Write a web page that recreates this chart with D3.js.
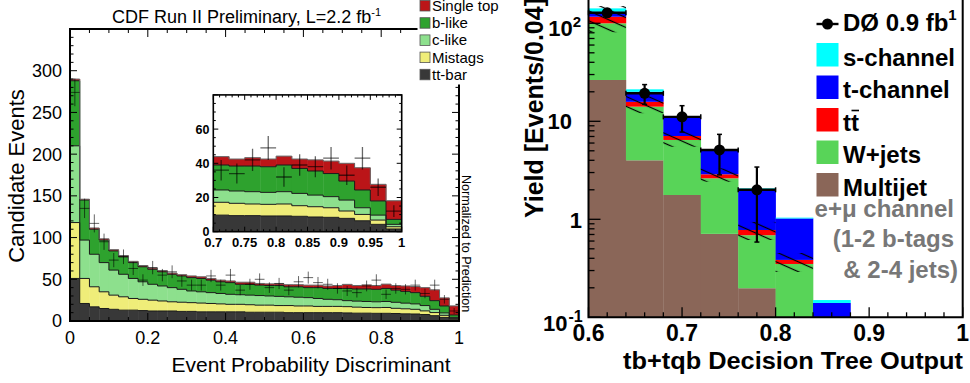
<!DOCTYPE html>
<html>
<head>
<meta charset="utf-8">
<script src="https://cdn.jsdelivr.net/npm/d3@7"></script>
<style>
  html, body { margin: 0; padding: 0; background: #fff; }
  svg { display: block; font-family: "Liberation Sans", Arial, Helvetica, sans-serif; }
</style>
</head>
<body>
<svg id="chart" width="970" height="383"></svg>
<script>
// ---------- CDF: event probability discriminant (40 bins of 0.025) ----------
const cdfBinWidth = 0.025;
const cdfTtbar     = [51,21,17,15,14,13,13,12.5,12,12, 12,11.5,11.5,11,11,11,11,11,10.5,10.5, 10.5,10.5,10,10,10,10,10,10,9.7,9.4, 9.4,9.2,9.2,9,8.6,8.4,7.8,6.4,4.3,1.6];
const cdfMistags   = [67,30,24,20,17,16,14,13.5,13,12, 11,11,10.5,10.5,10,9.5,9,9,9,8.5, 8.5,8,8.5,8,8,7.5,7.5,7.5,7.5,7.2, 6.8,6.8,7,6.2,6,5.6,4.3,3.7,2.5,1.3];
const cdfCLike     = [92,46,39,35,30,27,24,21,19,18, 17,15.5,14,13.5,13,12.5,12,11.5,11.5,11.5, 11,11,10.5,10.5,10,9.5,8.5,8,7.2,7.2, 7.2,7,7.2,7.2,6.8,6.5,6.4,3.9,2.9,1.4];
const cdfBLike     = [78,48,30,27,23,21,19,18,18,17, 16,16,16,16,15,14,14,12.5,13,12.5, 12.5,13,12,12.5,12,13,13,13.5,14.6,14.6, 15,15,15.6,14.6,14.1,13.5,11.1,10.4,8.3,2.9];
const cdfSingleTop = [2,1,1.5,1.5,1.5,1.5,1.5,1.5,1.5,1.5, 1.5,1.5,2,2,2,2,2,2.5,2.5,2, 2,2,2.5,2.5,3,3,3,3.5,4.9,4.1, 4.9,4.5,5.2,5.5,6.5,7.3,10.4,13,9.7,10.9];
const cdfData      = [274,135,117,95,73,77,63,49,64,55, 59,48,43,43,54,43,55,37,44,50, 40,45,37,47,52,46,44,39,36,34, 42,49,32,39,38,43,33,43,26,12];

const cdfYTicks = [0,50,100,150,200,250,300];
const cdfXTicks = [0,0.2,0.4,0.6,0.8,1];
const insetXTicks = [0.7,0.75,0.8,0.85,0.9,0.95,1];
const insetYTicks = [0,20,40,60];
const cdfLegend = ["Single top","b-like","c-like","Mistags","tt-bar"];

// ---------- DZero: decision tree output (bins of 0.04) ----------
const d0BinLow   = [0.60,0.64,0.68,0.72,0.76,0.80,0.84,0.88,0.92,0.96];
const d0BinWidth = 0.04;
const d0Multijet = [26.4,4.0,1.77,0.71,0.198,0,0,0,0,0];
const d0Wjets    = [73.6,10.1,4.68,1.91,0.49,0.35,0,0,0,0];
const d0Ttbar    = [16.7,1.7,0.63,0.26,0.09,0.035,0,0,0,0];
const d0TChannel = [14.3,4.2,3.9,2.13,1.22,0.635,0.14,0,0,0];
const d0SChannel = [11,1.2,0.2,0.2,0.07,0.02,0.01,0,0,0];
const d0Data     = [128,19.3,11.1,5.1,2.0];
const d0BandLow  = [81,12.1,5.5,2.42,0.615,0.29];
const d0BandHigh = [150,18.5,7.83,3.31,0.94,0.453];

const d0XTicks = [0.6,0.7,0.8,0.9,1];
const d0YTicks = [0.1,1,10,100];
const d0Legend = ["s-channel","t-channel","tt","W+jets","Multijet"];

const svg = d3.select("#chart");
const defs = svg.append("defs");

// ======================= Left panel (CDF) =======================
const cdfColors = { ttbar: "#383838", mistags: "#efed79", cLike: "#8de08d", bLike: "#2ea22e", singleTop: "#bb1518" };
const cdfKeys = ["ttbar","mistags","cLike","bLike","singleTop"];
const cdfRows = cdfData.map((d, i) => ({
  lo: i * cdfBinWidth, hi: (i + 1) * cdfBinWidth,
  ttbar: cdfTtbar[i], mistags: cdfMistags[i], cLike: cdfCLike[i], bLike: cdfBLike[i], singleTop: cdfSingleTop[i],
  data: d
}));
const cdfStack = d3.stack().keys(cdfKeys)(cdfRows);

const xL = d3.scaleLinear().domain([0, 1]).range([70, 459]);
const yL = d3.scaleLinear().domain([0, 350]).range([321, 29]);

defs.append("clipPath").attr("id", "clipMain")
  .append("rect").attr("x", xL(0)).attr("y", yL(350)).attr("width", xL(1) - xL(0)).attr("height", yL(0) - yL(350));

function stepPath(rows, tops, x, y) {
  let p = "";
  rows.forEach((r, i) => {
    const X0 = x(r.lo), X1 = x(r.hi), Y = y(tops[i]);
    p += (i === 0 ? `M${X0},${Y}` : `V${Y}`) + `H${X1}`;
  });
  return p;
}

function drawCdfHist(g, x, y, rowFilter, crossWidth) {
  cdfStack.forEach(layer => {
    const pts = layer.filter(d => rowFilter(d.data));
    g.append("g").selectAll("rect").data(pts).join("rect")
      .attr("x", d => x(d.data.lo))
      .attr("y", d => y(d[1]))
      .attr("width", d => x(d.data.hi) - x(d.data.lo) + 0.4)
      .attr("height", d => Math.max(0, y(d[0]) - y(d[1])))
      .attr("fill", cdfColors[layer.key]);
  });
  cdfStack.forEach(layer => {
    const pts = layer.filter(d => rowFilter(d.data));
    g.append("path")
      .attr("d", stepPath(pts.map(d => d.data), pts.map(d => d[1]), x, y))
      .attr("fill", "none")
      .attr("stroke", layer.key === "singleTop" ? "#666" : "#1a1a1a")
      .attr("stroke-width", 1);
  });
  const rows = cdfRows.filter(rowFilter);
  const cross = g.append("g").attr("stroke", "#000").attr("stroke-opacity", 0.6).attr("stroke-width", crossWidth);
  rows.forEach(r => {
    const xc = (x(r.lo) + x(r.hi)) / 2, err = Math.sqrt(r.data);
    cross.append("line").attr("x1", x(r.lo)).attr("x2", x(r.hi)).attr("y1", y(r.data)).attr("y2", y(r.data));
    cross.append("line").attr("x1", xc).attr("x2", xc).attr("y1", y(r.data + err)).attr("y2", y(r.data - err));
  });
}

const gMain = svg.append("g").attr("clip-path", "url(#clipMain)");
drawCdfHist(gMain, xL, yL, () => true, 1);

// main frame and ticks
const gAxL = svg.append("g").attr("stroke", "#000");
gAxL.append("rect").attr("x", xL(0)).attr("y", yL(350)).attr("width", xL(1) - xL(0)).attr("height", yL(0) - yL(350))
  .attr("fill", "none").attr("stroke-width", 2);
d3.range(0, 351, 10).forEach(v => {
  const len = v % 50 === 0 ? 7 : 3.5;
  gAxL.append("line").attr("x1", xL(0)).attr("x2", xL(0) + len).attr("y1", yL(v)).attr("y2", yL(v)).attr("stroke-width", 1);
  gAxL.append("line").attr("x1", xL(1)).attr("x2", xL(1) - len).attr("y1", yL(v)).attr("y2", yL(v)).attr("stroke-width", 1);
});
d3.range(0, 21).forEach(k => {
  const v = k * 0.05, len = k % 4 === 0 ? 8 : 4;
  gAxL.append("line").attr("x1", xL(v)).attr("x2", xL(v)).attr("y1", yL(0)).attr("y2", yL(0) - len).attr("stroke-width", 1);
  gAxL.append("line").attr("x1", xL(v)).attr("x2", xL(v)).attr("y1", yL(350)).attr("y2", yL(350) + len).attr("stroke-width", 1);
});

svg.append("g").selectAll("text").data(cdfYTicks).join("text")
  .attr("x", 62).attr("y", d => yL(d)).attr("dy", "0.36em")
  .attr("text-anchor", "end").attr("font-size", 18).text(d => d);
svg.append("g").selectAll("text").data(cdfXTicks).join("text")
  .attr("x", d => xL(d)).attr("y", 343.5)
  .attr("text-anchor", "middle").attr("font-size", 18).text(d => String(+d.toFixed(1)));

svg.append("text").attr("x", 311).attr("y", 371.5).attr("text-anchor", "middle").attr("font-size", 21)
  .text("Event Probability Discriminant");
svg.append("text").attr("transform", "translate(23.5,176) rotate(-90)").attr("text-anchor", "middle").attr("font-size", 22)
  .text("Candidate Events");
svg.append("text").attr("transform", "translate(461.5,175) rotate(90)").attr("text-anchor", "start").attr("font-size", 12.6)
  .text("Normalized to Prediction");

const title = svg.append("text").attr("x", 112).attr("y", 22.5).attr("font-size", 18);
title.append("tspan").text("CDF Run II Preliminary, L=2.2 fb");
title.append("tspan").attr("dy", -7).attr("font-size", 11).text("-1");

// inset
const xI = d3.scaleLinear().domain([0.7, 1]).range([213.3, 401.7]);
const yI = d3.scaleLinear().domain([0, 80]).range([231.7, 94.9]);
defs.append("clipPath").attr("id", "clipInset")
  .append("rect").attr("x", xI(0.7)).attr("y", yI(80)).attr("width", xI(1) - xI(0.7)).attr("height", yI(0) - yI(80));
svg.append("rect").attr("x", xI(0.7)).attr("y", yI(80)).attr("width", xI(1) - xI(0.7)).attr("height", yI(0) - yI(80)).attr("fill", "#fff");
const gIn = svg.append("g").attr("clip-path", "url(#clipInset)");
drawCdfHist(gIn, xI, yI, r => r.lo >= 0.7 - 1e-9, 1.3);
const gAxI = svg.append("g").attr("stroke", "#000");
gAxI.append("rect").attr("x", xI(0.7)).attr("y", yI(80)).attr("width", xI(1) - xI(0.7)).attr("height", yI(0) - yI(80))
  .attr("fill", "none").attr("stroke-width", 1.6);
d3.range(0, 81, 5).forEach(v => {
  const len = v % 20 === 0 ? 5 : 2.5;
  gAxI.append("line").attr("x1", xI(0.7)).attr("x2", xI(0.7) + len).attr("y1", yI(v)).attr("y2", yI(v)).attr("stroke-width", 1);
  gAxI.append("line").attr("x1", xI(1)).attr("x2", xI(1) - len).attr("y1", yI(v)).attr("y2", yI(v)).attr("stroke-width", 1);
});
d3.range(0, 31).forEach(k => {
  const v = 0.7 + k * 0.01, len = k % 5 === 0 ? 5 : 2.5;
  gAxI.append("line").attr("x1", xI(v)).attr("x2", xI(v)).attr("y1", yI(0)).attr("y2", yI(0) - len).attr("stroke-width", 1);
  gAxI.append("line").attr("x1", xI(v)).attr("x2", xI(v)).attr("y1", yI(80)).attr("y2", yI(80) + len).attr("stroke-width", 1);
});
svg.append("g").selectAll("text").data(insetYTicks).join("text")
  .attr("x", 209.5).attr("y", d => yI(d)).attr("dy", "0.36em")
  .attr("text-anchor", "end").attr("font-size", 12.5).attr("font-weight", "bold").text(d => d);
svg.append("g").selectAll("text").data(insetXTicks).join("text")
  .attr("x", d => xI(d)).attr("y", 246.5)
  .attr("text-anchor", "middle").attr("font-size", 13).attr("font-weight", "bold").text(d => String(+d.toFixed(2)));

// legend (top right, over the frame corner)
svg.append("rect").attr("x", 417.5).attr("y", 0).attr("width", 100).attr("height", 84.5).attr("fill", "#fff");
const legL = svg.append("g");
const legColorsL = [cdfColors.singleTop, cdfColors.bLike, cdfColors.cLike, cdfColors.mistags, cdfColors.ttbar];
cdfLegend.forEach((name, i) => {
  const base = 11 + i * 17.2;
  legL.append("rect").attr("x", 420).attr("y", base - 10.5).attr("width", 10).attr("height", 10.5)
    .attr("fill", legColorsL[i]).attr("stroke", "#555").attr("stroke-width", 0.8);
  legL.append("text").attr("x", 432).attr("y", base).attr("font-size", 15).text(name);
});

// ======================= Right panel (DZero) =======================
const d0Colors = { multijet: "#8a6658", wjets: "#58d458", ttbar: "#ff0000", tchan: "#0000ff", schan: "#00ffff" };
const d0Keys = ["multijet","wjets","ttbar","tchan","schan"];
const d0Rows = d0BinLow.map((lo, i) => ({
  lo, hi: lo + d0BinWidth,
  multijet: d0Multijet[i], wjets: d0Wjets[i], ttbar: d0Ttbar[i], tchan: d0TChannel[i], schan: d0SChannel[i]
}));
const d0Stack = d3.stack().keys(d0Keys)(d0Rows);

const xR = d3.scaleLinear().domain([0.6, 1]).range([588.5, 962.7]);
const yR = d3.scaleLog().domain([0.1, 200]).range([317.3, 317.3 - 98 * Math.log10(2000)]).clamp(true);
const yRs = v => yR(Math.max(v, 1e-4));

defs.append("clipPath").attr("id", "clipRight")
  .append("rect").attr("x", xR(0.6)).attr("y", yR(200)).attr("width", xR(1) - xR(0.6)).attr("height", yR(0.1) - yR(200));

const gR = svg.append("g").attr("clip-path", "url(#clipRight)");
d0Stack.forEach(layer => {
  gR.append("g").selectAll("rect").data(layer.filter(d => d[1] - d[0] > 0)).join("rect")
    .attr("x", d => xR(d.data.lo))
    .attr("y", d => yRs(d[1]))
    .attr("width", d => xR(d.data.hi) - xR(d.data.lo) + 0.3)
    .attr("height", d => Math.max(0, yRs(d[0]) - yRs(d[1])))
    .attr("fill", d0Colors[layer.key]);
});

// uncertainty band (hatched)
const hatch = defs.append("pattern").attr("id", "hatch").attr("patternUnits", "userSpaceOnUse")
  .attr("width", 9).attr("height", 9).attr("patternTransform", "rotate(24)");
hatch.append("line").attr("x1", -1).attr("x2", 10).attr("y1", 4.5).attr("y2", 4.5).attr("stroke", "#000").attr("stroke-width", 1.2);
gR.append("g").selectAll("rect").data(d0BandLow).join("rect")
  .attr("x", (d, i) => xR(d0BinLow[i]))
  .attr("y", (d, i) => yR(d0BandHigh[i]))
  .attr("width", (d, i) => xR(d0BinLow[i] + d0BinWidth) - xR(d0BinLow[i]))
  .attr("height", (d, i) => yR(d) - yR(d0BandHigh[i]))
  .attr("fill", "url(#hatch)");

// data points
const gPts = svg.append("g");
d0Data.forEach((v, i) => {
  const lo = d0BinLow[i], hi = lo + d0BinWidth, xc = xR(lo + d0BinWidth / 2), err = Math.sqrt(v);
  const yc = yR(v), yTop = yR(v + err), yBot = yR(v - err);
  gPts.append("line").attr("x1", xR(lo)).attr("x2", xR(hi)).attr("y1", yc).attr("y2", yc).attr("stroke", "#000").attr("stroke-width", 2.4);
  gPts.append("line").attr("x1", xR(lo)).attr("x2", xR(lo)).attr("y1", yc - 2.5).attr("y2", yc + 2.5).attr("stroke", "#000").attr("stroke-width", 1.5);
  gPts.append("line").attr("x1", xR(hi)).attr("x2", xR(hi)).attr("y1", yc - 2.5).attr("y2", yc + 2.5).attr("stroke", "#000").attr("stroke-width", 1.5);
  gPts.append("line").attr("x1", xc).attr("x2", xc).attr("y1", yTop).attr("y2", yBot).attr("stroke", "#000").attr("stroke-width", 2.2);
  gPts.append("line").attr("x1", xc - 2.5).attr("x2", xc + 2.5).attr("y1", yTop).attr("y2", yTop).attr("stroke", "#000").attr("stroke-width", 1.5);
  gPts.append("line").attr("x1", xc - 2.5).attr("x2", xc + 2.5).attr("y1", yBot).attr("y2", yBot).attr("stroke", "#000").attr("stroke-width", 1.5);
  gPts.append("circle").attr("cx", xc).attr("cy", yc).attr("r", 5.5).attr("fill", "#000");
});

// frame and ticks
const gAxR = svg.append("g").attr("stroke", "#000");
gAxR.append("path")
  .attr("d", `M${xR(0.6)},${yR(200)}V${yR(0.1)}H${xR(1)}V${yR(200)}`)
  .attr("fill", "none").attr("stroke-width", 2);
[0.1, 1, 10, 100].forEach(dec => {
  d3.range(1, 10).forEach(m => {
    const v = dec * m;
    if (v > 200) return;
    const len = m === 1 ? 12 : 6;
    gAxR.append("line").attr("x1", xR(0.6)).attr("x2", xR(0.6) + len).attr("y1", yR(v)).attr("y2", yR(v)).attr("stroke-width", 1.3);
  });
});
d3.range(0, 21).forEach(k => {
  const v = 0.6 + k * 0.02, len = k % 5 === 0 ? 10 : 5;
  gAxR.append("line").attr("x1", xR(v)).attr("x2", xR(v)).attr("y1", yR(0.1)).attr("y2", yR(0.1) - len).attr("stroke-width", 1.3);
});

svg.append("g").selectAll("text").data(d0XTicks).join("text")
  .attr("x", d => xR(d)).attr("y", 340.5)
  .attr("text-anchor", "middle").attr("font-size", 23).attr("font-weight", "bold").text(d => String(+d.toFixed(1)));

const yLab = svg.append("g").attr("font-weight", "bold");
d0YTicks.forEach(v => {
  const exp = Math.round(Math.log10(v));
  const t = yLab.append("text").attr("font-size", 22);
  if (exp === 0) {
    t.attr("x", 582).attr("text-anchor", "end").attr("y", yR(v) + 9).text("1");
  } else if (exp === 1) {
    t.attr("x", 572).attr("text-anchor", "end").attr("y", yR(v) + 8).text("10");
  } else if (exp > 1) {
    t.attr("x", 581).attr("text-anchor", "end").attr("y", yR(v) + 13);
    t.append("tspan").text("10");
    t.append("tspan").attr("dy", -9).attr("font-size", 15).text(String(exp));
  } else {
    // lowest decade: base and exponent set from the left
    t.attr("x", 543).attr("text-anchor", "start").attr("y", yR(v) + 14);
    t.append("tspan").text("10");
    t.append("tspan").attr("dx", 1).attr("dy", -9).attr("font-size", 16).text(String(exp));
  }
});

svg.append("text").attr("x", 623).attr("y", 368.5).attr("font-size", 23).attr("font-weight", "bold")
  .attr("textLength", 340).attr("lengthAdjust", "spacingAndGlyphs")
  .text("tb+tqb Decision Tree Output");
svg.append("text").attr("transform", "translate(542.5,218) rotate(-90)").attr("font-size", 25).attr("font-weight", "bold")
  .text("Yield [Events/0.04]");

// legend
const legR = svg.append("g").attr("font-weight", "bold").attr("font-size", 24);
legR.append("line").attr("x1", 816.5).attr("x2", 838.5).attr("y1", 24).attr("y2", 24).attr("stroke", "#000").attr("stroke-width", 2.4);
legR.append("circle").attr("cx", 827.5).attr("cy", 24).attr("r", 5.5).attr("fill", "#000");
const dzLab = legR.append("text").attr("x", 843).attr("y", 31);
dzLab.append("tspan").text("DØ 0.9 fb");
dzLab.append("tspan").attr("dy", -11).attr("font-size", 15).text("1");
const legColorsR = [d0Colors.schan, d0Colors.tchan, d0Colors.ttbar, d0Colors.wjets, d0Colors.multijet];
d0Legend.forEach((name, i) => {
  const base = 65.5 + i * 32.5;
  legR.append("rect").attr("x", 816.5).attr("y", base - 22.5).attr("width", 22).attr("height", 23.5).attr("fill", legColorsR[i]);
  legR.append("text").attr("x", 843).attr("y", base).text(name);
  if (name === "tt") {
    // bar over the second t
    legR.append("line").attr("x1", 843 + 8.5).attr("x2", 843 + 16).attr("y1", base - 20).attr("y2", base - 20)
      .attr("stroke", "#000").attr("stroke-width", 1.6);
  }
});

const chan = svg.append("g").attr("font-weight", "bold").attr("font-size", 24).attr("fill", "#777").attr("text-anchor", "end");
chan.append("text").attr("x", 954).attr("y", 217).text("e+μ channel");
chan.append("text").attr("x", 954).attr("y", 247).text("(1-2 b-tags");
chan.append("text").attr("x", 958).attr("y", 277.5).text("& 2-4 jets)");
</script>
</body>
</html>
